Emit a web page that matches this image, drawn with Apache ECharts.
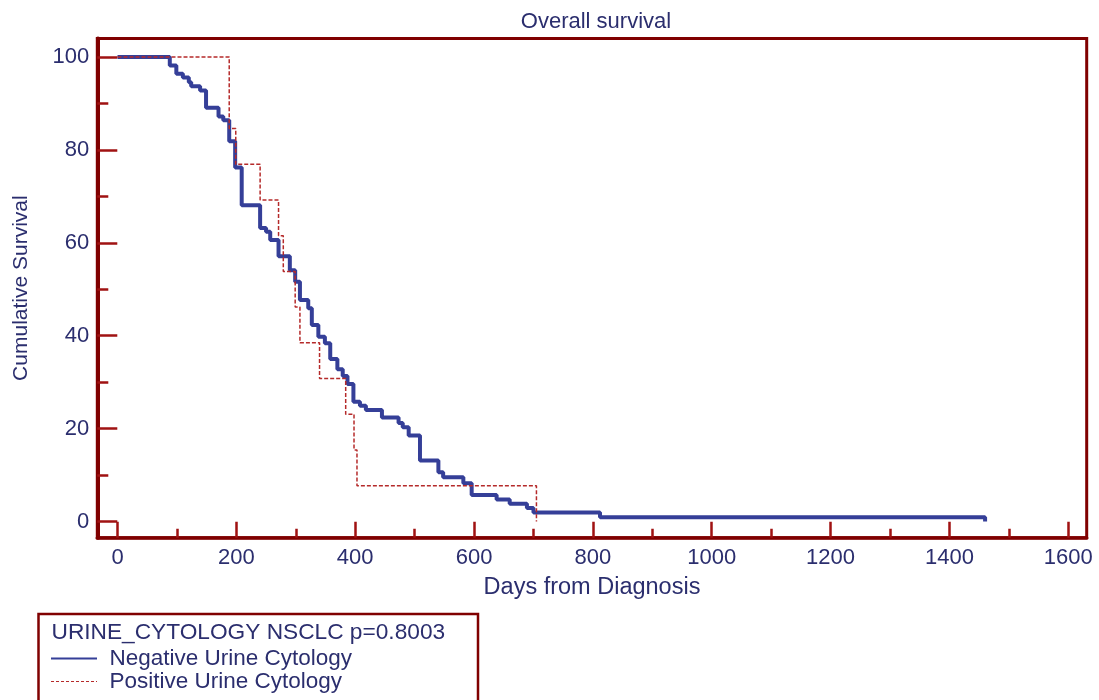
<!DOCTYPE html>
<html>
<head>
<meta charset="utf-8">
<script src="https://cdn.jsdelivr.net/npm/echarts@6/dist/echarts.min.js"></script>
<style>
html,body{margin:0;padding:0;background:#fff;}
#chart{width:1099px;height:700px;}
</style>
</head>
<body>
<div id="chart"></div>
<script>
// Kaplan-Meier steps: [day, cumulative survival %]
const negDays = [0, 88, 99, 110, 120, 124, 139, 149, 170, 178, 188, 198, 209, 240, 250, 257, 271, 290, 299, 307, 321, 327, 338, 349, 358, 370, 379, 387, 397, 408, 418, 445, 473, 480, 490, 509, 540, 548, 582, 596, 638, 660, 689, 700, 812, 1460];
const negSurv = [100, 98.2, 96.4, 95.6, 94.6, 93.7, 92.8, 89.1, 87.2, 86.4, 81.9, 76.2, 68.1, 63.2, 62.4, 60.6, 57.1, 54.1, 51.6, 47.7, 45.9, 42.3, 39.8, 38.4, 35.0, 32.8, 31.3, 29.6, 25.8, 24.9, 24.0, 22.4, 21.2, 20.3, 18.5, 13.1, 10.6, 9.5, 8.2, 5.7, 4.7, 3.8, 2.9, 1.9, 0.9, 0];
const posDays = [0, 188, 199, 240, 271, 279, 299, 307, 340, 384, 398, 403, 705];
const posSurv = [100, 84.6, 76.9, 69.2, 61.5, 53.8, 46.2, 38.5, 30.8, 23.1, 15.4, 7.7, 0];

const xMajorTicks = [0, 200, 400, 600, 800, 1000, 1200, 1400, 1600];
const xMinorTicks = [100, 300, 500, 700, 900, 1100, 1300, 1500];
const yMajorTicks = [0, 20, 40, 60, 80, 100];
const yMinorTicks = [10, 30, 50, 70, 90];

const chartTitle = 'Overall survival';
const xName = 'Days from Diagnosis';
const yName = 'Cumulative Survival';
const legendTitle = 'URINE_CYTOLOGY NSCLC p=0.8003';
const seriesNames = ['Negative Urine Cytology', 'Positive Urine Cytology'];

const FONT = '"Liberation Sans", Arial, sans-serif';
const TXT = '#2b2e6e';
const FRAME = '#800000';
const TICK = '#a01212';
const BLUE = '#353f98';
const RED = '#b52a2a';

const X_MIN = -34, X_MAX = 1631, Y_MIN = -3.5, Y_MAX = 104;

const chart = echarts.init(document.getElementById('chart'));
chart.setOption({
  animation: false,
  backgroundColor: '#fff',
  title: {
    text: chartTitle, left: 591, top: 6, textAlign: 'center',
    textStyle: {fontFamily: FONT, fontSize: 22, fontWeight: 'normal', color: TXT}
  },
  grid: {
    left: 97.3, right: 12.3, top: 38.5, bottom: 162.3,
    show: true, borderColor: FRAME, borderWidth: 3, backgroundColor: 'transparent'
  },
  xAxis: [{
    type: 'value', min: X_MIN, max: X_MAX,
    name: xName, nameLocation: 'middle', nameGap: 38,
    nameTextStyle: {fontFamily: FONT, fontSize: 23.5, color: TXT},
    axisLine: {show: true, onZero: false, lineStyle: {color: FRAME, width: 3.5}},
    axisTick: {show: true, inside: true, length: 16, customValues: xMajorTicks, lineStyle: {color: TICK, width: 2.5}},
    axisLabel: {show: true, customValues: xMajorTicks, margin: 9, formatter: v => String(v), fontFamily: FONT, fontSize: 22, color: TXT},
    splitLine: {show: false}
  }, {
    type: 'value', min: X_MIN, max: X_MAX, position: 'bottom',
    axisLine: {show: false, onZero: false},
    axisTick: {show: true, inside: true, length: 9, customValues: xMinorTicks, lineStyle: {color: TICK, width: 2.5}},
    axisLabel: {show: false},
    splitLine: {show: false}
  }],
  yAxis: [{
    type: 'value', min: Y_MIN, max: Y_MAX,
    name: yName, nameLocation: 'middle', nameGap: 66, nameRotate: 90,
    nameTextStyle: {fontFamily: FONT, fontSize: 21, color: TXT},
    axisLine: {show: true, onZero: false, lineStyle: {color: FRAME, width: 4}},
    axisTick: {show: true, inside: true, length: 20, customValues: yMajorTicks, lineStyle: {color: TICK, width: 2.5}},
    axisLabel: {show: true, customValues: yMajorTicks, margin: 8, formatter: v => String(v), fontFamily: FONT, fontSize: 22, color: TXT},
    splitLine: {show: false}
  }, {
    type: 'value', min: Y_MIN, max: Y_MAX, position: 'left',
    axisLine: {show: false, onZero: false},
    axisTick: {show: true, inside: true, length: 11, customValues: yMinorTicks, lineStyle: {color: TICK, width: 2.5}},
    axisLabel: {show: false},
    splitLine: {show: false}
  }],
  series: [{
    name: seriesNames[0], type: 'line', step: 'end', symbol: 'none',
    xAxisIndex: 0, yAxisIndex: 0, z: 3,
    data: negDays.map((d, i) => [d, negSurv[i]]),
    lineStyle: {color: BLUE, width: 4}
  }, {
    name: seriesNames[1], type: 'line', step: 'end', symbol: 'none',
    xAxisIndex: 0, yAxisIndex: 0, z: 4,
    data: posDays.map((d, i) => [d, posSurv[i]]),
    lineStyle: {color: RED, width: 1.5, type: [4, 2]}
  }],
  graphic: [
    {type: 'rect', shape: {x: 38.5, y: 614, width: 439.5, height: 100},
     style: {fill: '#fff', stroke: FRAME, lineWidth: 2.5}},
    {type: 'text', x: 51.5, y: 632.5,
     style: {text: legendTitle, fontFamily: FONT, fontSize: 22.7, fill: TXT, verticalAlign: 'middle'}},
    {type: 'line', shape: {x1: 51, y1: 658.5, x2: 97, y2: 658.5}, style: {stroke: BLUE, lineWidth: 2}},
    {type: 'text', x: 109.5, y: 658.5,
     style: {text: seriesNames[0], fontFamily: FONT, fontSize: 22.5, fill: TXT, verticalAlign: 'middle'}},
    {type: 'line', shape: {x1: 51, y1: 681.5, x2: 97, y2: 681.5}, style: {stroke: RED, lineWidth: 1, lineDash: [3, 2]}},
    {type: 'text', x: 109.5, y: 682,
     style: {text: seriesNames[1], fontFamily: FONT, fontSize: 22.5, fill: TXT, verticalAlign: 'middle'}}
  ]
});
</script>
</body>
</html>
